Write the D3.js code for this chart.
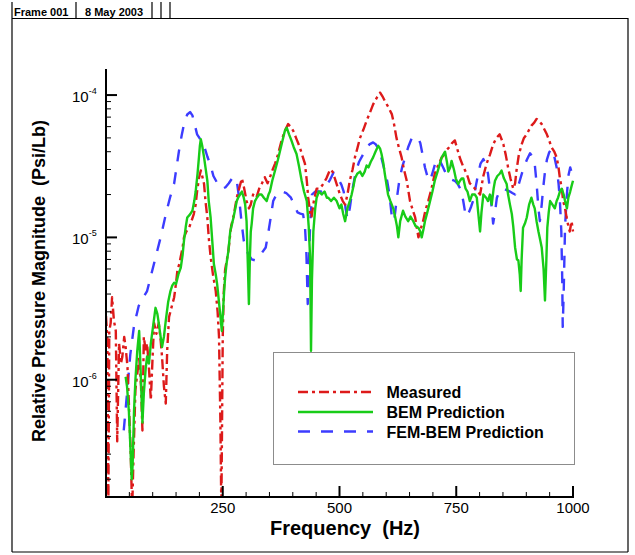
<!DOCTYPE html>
<html>
<head>
<meta charset="utf-8">
<script src="https://cdn.jsdelivr.net/npm/d3@7"></script>
<style>
  html, body { margin: 0; padding: 0; background: #fff; }
  svg { display: block; }
  text { font-family: "Liberation Sans", Arial, Helvetica, sans-serif; }
</style>
</head>
<body>
<svg id="chart" width="635" height="555"></svg>
<script>
// ---------------- DATA (values in units of 1e-6 Psi/Lb) ----------------
const measuredFreq = [0,3,5,7,10,13,17,21,24,28,32,35,39,42,46,49,53,56,59,63,67,71,75,78,81,85,88,92,96,100,103,108,113,117,120,124,128,131,135,140,146,150,153,157,160,164,167,172,178,183,188,192,195,199,203,206,210,213,217,220,224,229,235,239,242,245,247,250,252,255,262,268,273,280,285,291,296,301,306,310,315,322,328,334,340,346,352,357,362,368,376,383,390,395,401,408,415,420,426,430,433,437,440,445,451,458,465,472,480,485,490,497,501,507,512,517,522,528,533,538,544,551,558,565,572,580,587,592,597,604,612,617,622,627,633,638,644,651,657,662,666,669,674,679,684,690,697,704,711,719,724,729,735,741,747,752,758,764,769,774,779,785,790,796,801,808,815,822,829,836,843,848,851,856,861,866,872,876,879,884,890,895,901,906,911,917,922,927,933,938,944,949,954,960,965,969,972,976,979,983,986,990,993,997,1000];
const measuredVal  = [2.8,1.9,0.12,2.2,2.5,3.8,2.6,2.2,0.37,1.8,1.3,1.45,2.0,1.7,1.23,0.68,0.3,0.12,0.3,0.85,1.1,1.45,0.9,0.44,2.0,1.6,1.8,1.2,0.72,1.5,2.5,2.1,2.5,1.9,1.45,0.9,0.68,1.6,2.76,3.2,3.8,4.8,5.9,6.5,7.3,8.5,10,11,11.7,13,14.6,17,21,26,29.5,27,23.7,18,13.8,10,7.3,5.5,4.2,3.0,2.0,0.5,0.12,2.0,4.0,5.9,8,12,14,19,22,26,22,18,16,17,20,19,22,24,26.5,24,27,30,33,38,48,56,62.5,60,56,49,43,38,33,25,19,15,13.8,18,22,22,23.7,26,30,29,26,22,20,18,17,20,25,30,36.5,42,50,57,66,75,86,96,104,98,91,83,73.5,62,50,43,36.5,30,25,18,15.5,13.8,11.5,10,11.5,13,15.5,18,22,28,32,36.5,38,41,43,46,48,42,36,32,29.5,27,24,23,22,21,20,27,33,38,45,50,53,48,45,38,31,26,22,24,29.5,38,45,50,53,57,61,64,68,66,62.5,58,53,48,43,40,36.5,31,26,22,18,16,14,12,11,13,11];

const bemFreq = [42,45,49,52,55,57,60,63,67,71,74,78,81,85,88,92,96,101,106,110,113,117,120,124,128,133,138,142,146,150,155,160,164,167,171,174,180,185,189,192,196,199,201,203,206,210,213,217,220,224,228,231,235,238,242,245,248,250,253,255,258,262,266,270,273,277,280,283,287,291,295,298,301,304,306,308,310,312,315,319,323,328,333,338,344,348,351,356,362,368,373,378,383,387,392,397,402,408,413,419,424,430,434,437,439,441,444,448,451,456,462,468,473,476,482,488,494,500,504,508,512,517,522,526,530,533,538,544,549,554,558,562,567,572,577,583,587,590,594,597,601,604,609,615,619,623,626,630,636,641,647,652,658,663,669,673,676,680,683,688,694,699,704,710,715,719,726,730,733,737,740,745,749,754,758,762,765,770,774,779,784,790,794,797,801,804,808,814,818,822,826,830,833,838,843,847,852,858,861,865,869,872,876,880,883,886,888,890,893,897,901,906,911,915,918,922,926,930,933,937,940,943,945,948,951,956,961,965,968,972,976,980,983,987,990,994,997,1000];
const bemVal  = [1.05,0.9,0.6,0.35,0.2,0.25,0.6,1.0,1.6,2.2,1.2,0.5,0.8,1.2,1.46,1.3,1.8,2.4,3.2,2.9,2.5,2.0,1.7,2.0,2.6,3.5,4.2,4.6,4.8,4.7,5.5,6.1,7.5,9.5,12,13.8,14.5,15.4,18,21,28,36.5,44,49,44,36.5,31,25,18,13.8,9,6.5,5.5,4.7,3.5,2.8,2.2,2.8,4.2,5.2,6.5,8,11,12.5,13.8,16,18,19,20,21,19,17,13,6,3.4,7,11,12.5,16,18,19,20,20,19,18,20,21,25,29.5,35,41,48,56,59,53,48,43,38.5,32,25,21,18,12,7.3,1.6,5,11,16,19,21,20,21,19,19,18,19,18,16,17,14.6,13,16,18,20,23,26,28,29,27,29,32,31,34,36.5,40,44,42,38.5,33,28,23,20,18,16,14,12,10,13,15.4,14,13,14,13,12,11.7,11,10,11.5,13,15,18,21,25,29,33,36.5,40,34,29,31,34.5,30,26,23.7,25,26,26,22,21,18,20,20,19,15,11,15,20,19,18,20,17,22,25,27,28,29.5,26,23.7,20,17,14.6,12,8.5,7,6.9,5.5,4.2,7,11.7,12.5,13.8,17,19,17,16,13,11,9.5,8.5,6,3.6,7,11.7,15,18,17,16,18,19,21,22,20,18,16,19,21,23,25];

const femFreq = [38,45,52,60,70,80,88,97,106,117,128,137,146,151,156,162,168,174,180,185,190,195,200,205,210,217,224,230,237,244,250,256,263,270,276,280,285,290,295,300,306,312,319,326,334,342,347,353,358,365,372,378,386,396,403,410,416,422,426,429,432,434,437,441,448,456,462,470,480,487,492,498,504,509,513,517,522,528,535,542,550,557,564,572,578,584,590,596,602,607,612,617,622,628,634,640,647,655,662,668,673,678,683,688,694,700,706,711,716,722,728,734,740,747,754,760,765,769,772,777,782,787,792,797,802,808,813,818,822,826,829,833,837,844,851,858,865,870,876,881,886,893,901,908,913,918,922,926,929,933,936,940,944,949,954,960,965,969,972,975,977,978,980,983,987,990,994,998,1000];
const femVal  = [0.44,0.8,1.5,2.4,3.3,3.8,4.2,5.5,7.2,10,14.5,19,24,31,40,52,65,73,76,72,62,53,50,47,44,37,32,27,24.5,22.5,22,22.5,24,26,26.5,25,19,13,9.5,8.2,7.5,7.0,6.9,7.2,7.8,8.5,10.5,14,18,20,21,21,20.5,19,17,15,14.7,14.5,12,8,3.4,6,12,20,21,21,21,22.5,25.5,28.5,28,25.5,23.5,21,16,13.5,16,22,29,34,38,42,45,46.5,45,41,36,30,25,20,14,13,18,25,31,36,43,50,51,50,46,38,31,27,25,29,34,36,34,31,28,26,25.5,25,23.5,21.5,18,15,14,15,16.5,18.5,23,28,33,35.5,33,28,22,16,12.5,15,19,21.5,22,21.5,21,20.5,20,22,25,30,35,39,37,33,24,16,13,17,22,29,35,39.5,42,37,31,24,18,11,5,2.35,4,12,20,27,31,28,26];

const xMajorTicks = [250, 500, 750, 1000];
const xMinorStep = 50;
const yMajorExps = [-4, -5, -6];
const seriesNames = ["Measured", "BEM Prediction", "FEM-BEM Prediction"];
const headerCells = ["Frame 001", "8 May 2003", "", "", ""];

// ---------------- LAYOUT ----------------
const svg = d3.select("#chart");
const W = 635, H = 555;
const plot = { left: 106, right: 573, top: 69, bottom: 497 };

const x = d3.scaleLinear().domain([0, 1000]).range([plot.left, plot.right]);
const y = d3.scaleLog().domain([1.5e-7, 1.5e-4]).range([plot.bottom, plot.top + 1]);

// Outer frame
svg.append("rect").attr("x", 0).attr("y", 0).attr("width", W).attr("height", H).attr("fill", "#fff");
const frame = svg.append("g").attr("stroke", "#000").attr("stroke-width", 1.2).attr("fill", "none");
frame.append("line").attr("x1", 12).attr("x2", 12).attr("y1", 2).attr("y2", 552);
frame.append("line").attr("x1", 628).attr("x2", 628).attr("y1", 18).attr("y2", 552);
frame.append("line").attr("x1", 12).attr("x2", 628).attr("y1", 552).attr("y2", 552);
frame.append("line").attr("x1", 12).attr("x2", 628).attr("y1", 18.5).attr("y2", 18.5);
// header separators
[76, 152, 161, 170].forEach(sx => {
  frame.append("line").attr("x1", sx).attr("x2", sx).attr("y1", 2).attr("y2", 18.5);
});
svg.append("text").attr("x", 14).attr("y", 15.5).attr("font-size", 11).attr("font-weight", "bold")
  .text(headerCells[0]);
svg.append("text").attr("x", 85).attr("y", 15.5).attr("font-size", 11).attr("font-weight", "bold")
  .text(headerCells[1]);

// Clip
svg.append("defs").append("clipPath").attr("id", "clip")
  .append("rect").attr("x", plot.left).attr("y", plot.top).attr("width", plot.right - plot.left + 3).attr("height", plot.bottom - plot.top);

const line = d3.line().x(d => x(d[0])).y(d => y(d[1] * 1e-6));
const zip = (a, b) => a.map((v, i) => [v, b[i]]);

const lines = svg.append("g").attr("clip-path", "url(#clip)").attr("fill", "none")
  .attr("stroke-linejoin", "round");

const styles = [
  { color: "#dd1a1a", dash: "10,4,3,4", width: 2.4 },
  { color: "#18cc18", dash: null, width: 2.4 },
  { color: "#3c3cff", dash: "12,11", width: 2.4 }
];

lines.append("path").datum(zip(femFreq, femVal)).attr("d", line)
  .attr("stroke", styles[2].color).attr("stroke-width", styles[2].width).attr("stroke-dasharray", styles[2].dash);
lines.append("path").datum(zip(measuredFreq, measuredVal)).attr("d", line)
  .attr("stroke", styles[0].color).attr("stroke-width", styles[0].width).attr("stroke-dasharray", styles[0].dash);
lines.append("path").datum(zip(bemFreq, bemVal)).attr("d", line)
  .attr("stroke", styles[1].color).attr("stroke-width", styles[1].width);

// Axes
const axes = svg.append("g").attr("stroke", "#000");
axes.append("line").attr("x1", plot.left).attr("x2", plot.left).attr("y1", plot.top).attr("y2", plot.bottom + 1)
  .attr("stroke-width", 2);
axes.append("line").attr("x1", plot.left - 1).attr("x2", plot.right + 1).attr("y1", plot.bottom).attr("y2", plot.bottom)
  .attr("stroke-width", 2);

// X ticks
const xMinor = d3.range(xMinorStep, 1000, xMinorStep).filter(v => !xMajorTicks.includes(v));
xMinor.forEach(v => {
  axes.append("line").attr("x1", x(v)).attr("x2", x(v)).attr("y1", plot.bottom).attr("y2", plot.bottom - 5).attr("stroke-width", 1);
});
xMajorTicks.forEach(v => {
  axes.append("line").attr("x1", x(v)).attr("x2", x(v)).attr("y1", plot.bottom).attr("y2", plot.bottom - 11).attr("stroke-width", 2);
  svg.append("text").attr("x", x(v)).attr("y", 512.5).attr("text-anchor", "middle")
    .attr("font-size", 15).text(v);
});

// Y ticks
const [ymin, ymax] = y.domain();
for (let e = -7; e <= -4; e++) {
  for (let m = 2; m <= 9; m++) {
    const v = m * Math.pow(10, e);
    if (v < ymin || v > ymax) continue;
    axes.append("line").attr("x1", plot.left).attr("x2", plot.left + 5).attr("y1", y(v)).attr("y2", y(v)).attr("stroke-width", 1);
  }
}
yMajorExps.forEach(e => {
  const v = Math.pow(10, e);
  axes.append("line").attr("x1", plot.left).attr("x2", plot.left + 11).attr("y1", y(v)).attr("y2", y(v)).attr("stroke-width", 2);
  const t = svg.append("text").attr("x", 72).attr("y", y(v) + 7).attr("font-size", 15);
  t.append("tspan").text("10");
  t.append("tspan").attr("font-size", 9).attr("dy", -8).text(String(e));
});

// Axis titles
svg.append("text").attr("x", 345).attr("y", 534.5).attr("text-anchor", "middle")
  .attr("font-size", 20).attr("font-weight", "bold").style("white-space", "pre")
  .text("Frequency  (Hz)");
svg.append("text").attr("transform", "translate(45,281) rotate(-90)").attr("text-anchor", "middle")
  .attr("font-size", 18).attr("font-weight", "bold").style("white-space", "pre")
  .text("Relative Pressure Magnitude  (Psi/Lb)");

// Legend
const lg = svg.append("g");
lg.append("rect").attr("x", 273.5).attr("y", 352.5).attr("width", 301).attr("height", 112)
  .attr("fill", "#fff").attr("stroke", "#8c8c8c").attr("stroke-width", 1);
const rowY = [392, 412, 431.5];
seriesNames.forEach((name, i) => {
  const s = styles[i];
  lg.append("line").attr("x1", 298).attr("x2", 373).attr("y1", rowY[i]).attr("y2", rowY[i])
    .attr("stroke", s.color).attr("stroke-width", s.width).attr("stroke-dasharray", s.dash);
  lg.append("text").attr("x", 386.5).attr("y", rowY[i] + 6).attr("font-size", 16).attr("font-weight", "bold")
    .text(name);
});
</script>
</body>
</html>
